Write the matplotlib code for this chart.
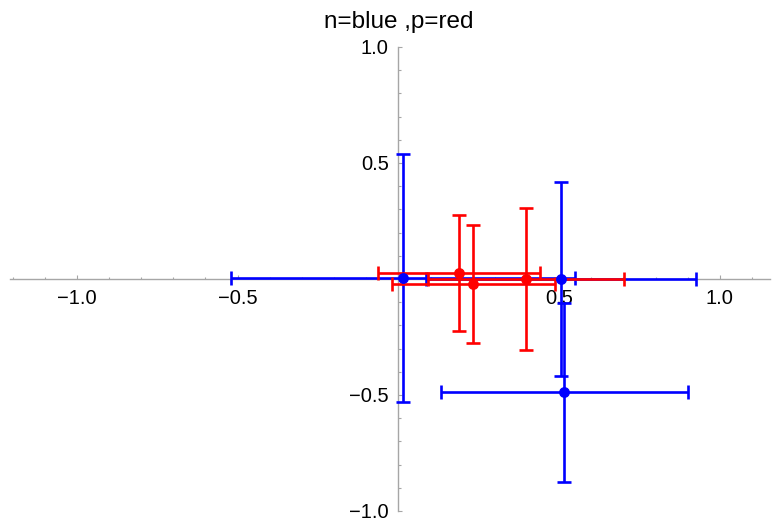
import matplotlib
import matplotlib.pyplot as plt
from matplotlib.ticker import MultipleLocator, FixedLocator, FuncFormatter
matplotlib.use('Agg')

# neutron points (blue): centre and error (same size in x and y)
n_x = [0.013, 0.507, 0.516]
n_y = [0.004, 0.0, -0.489]
n_err = [0.535, 0.42, 0.384]

# proton points (red)
p_x = [0.189, 0.233, 0.397]
p_y = [0.026, -0.021, 0.0]
p_err = [0.252, 0.253, 0.306]

plt.rcParams['font.family'] = ['Liberation Sans', 'DejaVu Sans']

fig = plt.figure(figsize=(7.81, 5.23), dpi=100)
ax = fig.add_axes([9.7 / 781, 12 / 523, 760 / 781, 464 / 523])

lw = 1.9
ax.errorbar(n_x, n_y, xerr=n_err, yerr=n_err, fmt='none', ecolor='#0000ff',
            elinewidth=lw, capsize=5, capthick=lw, zorder=3)
ax.errorbar(p_x, p_y, xerr=p_err, yerr=p_err, fmt='none', ecolor='#ff0000',
            elinewidth=lw, capsize=5, capthick=lw, zorder=4)
ax.plot(n_x, n_y, 'o', color='#0000ff', markersize=6.8, zorder=5)
ax.plot(p_x, p_y, 'o', color='#ff0000', markersize=6.8, zorder=6)

ax.set_xlim(-1.209, 1.155)
ax.set_ylim(-1.0, 1.0)

# axes through the origin, Mathematica style
for side in ['top', 'right']:
    ax.spines[side].set_visible(False)
for side in ['left', 'bottom']:
    ax.spines[side].set_position(('data', 0))
    ax.spines[side].set_color('#a6a6a6')
    ax.spines[side].set_linewidth(1.0)

major = [-1.0, -0.5, 0.5, 1.0]
ax.xaxis.set_major_locator(FixedLocator(major))
ax.yaxis.set_major_locator(FixedLocator(major))
ax.xaxis.set_minor_locator(MultipleLocator(0.1))
ax.yaxis.set_minor_locator(MultipleLocator(0.1))
fmt = FuncFormatter(lambda v, pos: ('\u2212' if v < 0 else '') + '%.1f' % abs(v))
ax.xaxis.set_major_formatter(fmt)
ax.yaxis.set_major_formatter(fmt)

ax.tick_params(which='major', direction='in', length=3.2, width=0.8,
               color='#a6a6a6', labelsize=14.5, labelcolor='black', pad=7)
ax.tick_params(which='minor', direction='in', length=1.8, width=0.8,
               color='#a6a6a6')

fig.text(398.4 / 781, 1 - 27.7 / 523, 'n=blue ,p=red', ha='center',
         va='baseline', fontsize=17.5)

plt.savefig('out.png', dpi=100)
plt.close()
